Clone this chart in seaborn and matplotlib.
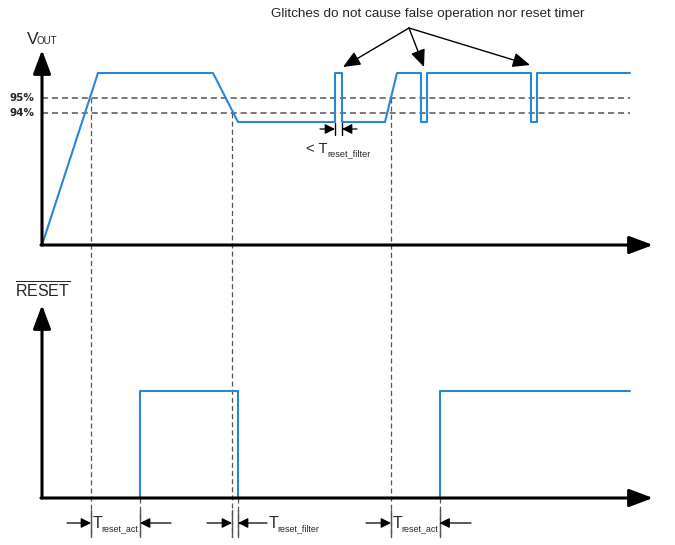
import numpy as np
import matplotlib.pyplot as plt
import pandas as pd
import seaborn as sns

# waveform data (time in schematic units, levels in schematic units)
vout_t = [0, 56, 171, 196, 293, 293, 300, 300, 343, 355, 379, 379, 385, 385, 489, 489, 495, 495, 588]
vout_v = [0, 172, 172, 123, 123, 172, 172, 123, 123, 172, 172, 123, 123, 172, 172, 123, 123, 172, 172]
reset_t = [0, 98, 98, 196, 196, 397.5, 397.5, 588]
reset_v = [0, 0, 107, 107, 0, 0, 107, 107]

# thresholds
thr_levels = [147, 132]
thr_labels = ['95%', '94%']

# threshold crossings and RESET edges
cross_t = [49, 190, 349]
cross_v = [147, 132, 147]
edge_t = [98, 196, 397.5]

# glitch markers the callout points at
glitch_t = [301, 382, 488]
glitch_y = [178, 178, 180]

TOP = 253          # baseline of the VOUT panel
END = 611          # tip of the time axes
BLUE = '#2a86d6'
GREY = '#555555'

sns.set_style('white')
plt.rcParams['font.family'] = ['Liberation Sans', 'DejaVu Sans']

fig = plt.figure(figsize=(6.75, 5.45), dpi=100)
ax = fig.add_axes([0, 0, 1, 1])
ax.set_xlim(-42, 633)
ax.set_ylim(-47, 498)
ax.axis('off')

vout = pd.DataFrame({'t': vout_t, 'v': np.array(vout_v) + TOP})
reset = pd.DataFrame({'t': reset_t, 'v': reset_v})
sns.lineplot(data=vout, x='t', y='v', sort=False, estimator=None, color=BLUE, lw=1.5, ax=ax, zorder=3)
sns.lineplot(data=reset, x='t', y='v', sort=False, estimator=None, color=BLUE, lw=1.5, ax=ax, zorder=3)

# threshold lines and labels
for lv, lab in zip(thr_levels, thr_labels):
    ax.plot([0, 588], [lv + TOP, lv + TOP], ls=(0, (4, 2.5)), color=GREY, lw=1.1, zorder=1)
    ax.text(-33, lv + TOP, lab, fontsize=7.5, fontweight='bold', family='DejaVu Sans', va='center', ha='left')

# dashed verticals from the crossings down past the RESET axis
for t, v in zip(cross_t, cross_v):
    ax.plot([t, t], [v + TOP, -39], ls=(0, (4, 2.5)), color=GREY, lw=0.9, zorder=1)
for t in edge_t:
    ax.plot([t, t], [0, -39], ls=(0, (4, 2.5)), color=GREY, lw=0.9, zorder=1)

# axes with arrow heads
ax_arrow = dict(arrowstyle='-|>,head_length=0.8,head_width=0.3', mutation_scale=18,
                lw=2.2, color='black', shrinkA=0, shrinkB=0)
for base, ytip in [(TOP, 448), (0, 193)]:
    ax.annotate('', xy=(0, ytip), xytext=(0, base), arrowprops=ax_arrow, zorder=4)
    ax.annotate('', xy=(END, base), xytext=(-1, base), arrowprops=ax_arrow, zorder=4)

# axis titles
ax.text(-15.5, 453.7, 'V', fontsize=12.5, ha='left', va='baseline')
ax.text(-5.5, 453.7, 'OUT', fontsize=7, ha='left', va='baseline')
ax.text(-27, 200, r'$\overline{\mathregular{RESET}}$', fontsize=11.5, ha='left', va='baseline')

# callout for the glitches
ax.text(386, 484, 'Glitches do not cause false operation nor reset timer', fontsize=9.7, ha='center', va='center')
call = dict(arrowstyle='-|>,head_length=0.75,head_width=0.32', mutation_scale=14, lw=1.0,
            color='black', shrinkA=0, shrinkB=0)
for gt, gy in zip(glitch_t, glitch_y):
    ax.annotate('', xy=(gt, gy + TOP), xytext=(367, 470), arrowprops=call)


def t_label(x, y, sub, prefix='T', size=11.5, subsize=6.4, dx=6.2):
    ax.text(x, y, prefix, fontsize=size, ha='left', va='baseline')
    ax.annotate(sub, xy=(x, y), xytext=(dx, -2.2), textcoords='offset points',
                fontsize=subsize, ha='left', va='baseline')


dim = dict(arrowstyle='-|>,head_length=0.6,head_width=0.3', mutation_scale=10, lw=0.9,
           color='black', shrinkA=0, shrinkB=0)


def dim_arrows(t0, t1, y, left_from, right_from, tick_lo, tick_hi, tick_color=GREY):
    ax.annotate('', xy=(t0, y), xytext=(left_from, y), arrowprops=dim)
    ax.annotate('', xy=(t1, y), xytext=(right_from, y), arrowprops=dim)
    for t in (t0, t1):
        ax.plot([t, t], [tick_lo, tick_hi], color=tick_color, lw=1.0)


# glitch width annotation in the VOUT panel
dim_arrows(293, 300, TOP + 116, 278, 315, TOP + 110, TOP + 122, 'black')
t_label(264, TOP + 92, 'reset_filter', prefix='< T', size=10.5, subsize=6.6, dx=15.5)

# timing annotations below the RESET axis
dim_arrows(49, 98, -25, 25, 129, -39, -12)
t_label(51, -30, 'reset_act')
dim_arrows(190, 196, -25, 165, 225, -39, -12)
t_label(227, -30, 'reset_filter')
dim_arrows(349, 397.5, -25, 324, 429, -39, -12)
t_label(351, -30, 'reset_act')

plt.savefig('out.png', dpi=100)
